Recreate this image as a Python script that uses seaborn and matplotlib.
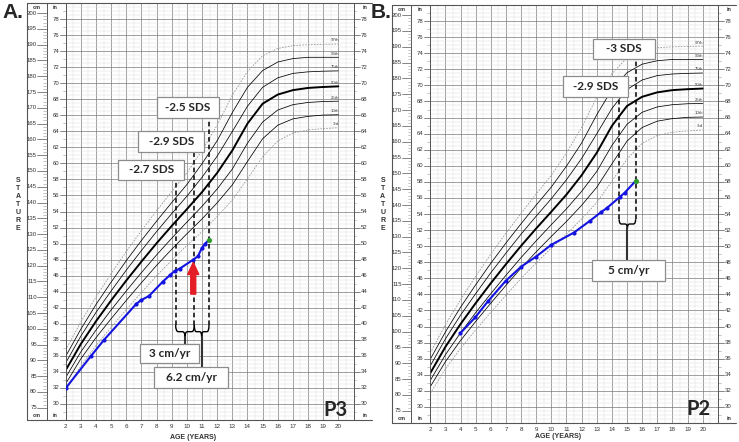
import numpy as np
import pandas as pd
import matplotlib
matplotlib.use("Agg")
import matplotlib.pyplot as plt
import seaborn as sns
from matplotlib.patches import Rectangle, PathPatch
from matplotlib.path import Path

# reference percentile curves (boys stature, cm)
ages = list(range(2, 21))
p3 = [80.5, 88.2, 94.7, 100.5, 106.1, 111.5, 116.8, 121.7, 126.4, 130.8, 135.6, 140.8, 147.5, 154.5, 159.5, 162.0, 163.0, 163.4, 163.7]
p10 = [82.6, 90.5, 97.2, 103.2, 109.0, 114.6, 120.1, 125.2, 130.1, 134.8, 139.9, 145.6, 153.0, 160.2, 164.5, 166.5, 167.3, 167.7, 167.8]
p25 = [84.6, 92.7, 99.6, 106.0, 112.0, 117.8, 123.4, 128.7, 133.8, 138.8, 144.3, 150.6, 158.8, 165.5, 169.3, 171.0, 171.7, 172.0, 172.1]
p50 = [86.9, 95.2, 102.4, 109.0, 115.3, 121.3, 127.1, 132.6, 137.9, 143.3, 149.4, 156.5, 165.0, 171.3, 174.2, 175.6, 176.3, 176.6, 176.8]
p75 = [89.2, 97.7, 105.2, 112.0, 118.6, 124.8, 130.8, 136.5, 142.0, 148.0, 154.7, 162.5, 170.5, 176.5, 179.5, 180.9, 181.4, 181.6, 181.7]
p90 = [91.3, 99.9, 107.7, 114.8, 121.6, 128.0, 134.1, 140.0, 145.7, 152.3, 159.6, 168.5, 176.5, 181.8, 184.5, 185.6, 186.0, 186.0, 186.0]
p97 = [93.3, 102.2, 110.1, 117.5, 124.5, 131.1, 137.4, 143.5, 149.4, 156.5, 164.5, 174.0, 181.5, 186.5, 188.8, 189.7, 190.0, 190.1, 190.2]
pct_names = ["3rd", "10th", "25th", "50th", "75th", "90th", "97th"]
pct_values = [p3, p10, p25, p50, p75, p90, p97]

# patient P3 (panel A)
p3_age = [2.0, 3.67, 4.53, 6.64, 6.95, 7.5, 8.4, 8.88, 9.19, 9.54, 10.42, 10.73, 10.99, 11.21]
p3_cm = [81.2, 91.4, 96.5, 107.8, 109.0, 110.4, 114.9, 117.0, 118.3, 119.1, 121.9, 123.0, 125.6, 127.0]
p3_last = (11.46, 128.2)

# patient P2 (panel B)
p2_age = [3.98, 4.97, 5.83, 6.98, 8.0, 8.99, 9.99, 11.5, 12.55, 13.3, 13.66, 14.54, 14.85]
p2_cm = [99.5, 104.5, 109.7, 116.0, 120.5, 123.7, 127.4, 131.3, 135.0, 137.8, 139.0, 142.6, 143.9]
p2_last = (15.57, 147.6)

sns.set_style("white")
plt.rcParams['font.family'] = ['Liberation Sans', 'DejaVu Sans']

fig = plt.figure(figsize=(7.39, 4.42), dpi=100)
W, H = 739, 442

YMIN, YMAX = 28 * 2.54, 80 * 2.54
BLUE = '#1414e0'
GREEN = '#2e9b2e'


def setup_panel(ax, xlab_y):
    ax.set_xlim(2, 21)
    ax.set_ylim(YMIN, YMAX)
    ax.set_xticks(range(2, 22))
    ax.set_xticks(np.arange(2, 21.01, 0.5), minor=True)
    ax.set_yticks([i * 2.54 for i in range(28, 81, 2)])
    ax.set_yticks([i * 2.54 for i in np.arange(28, 80.1, 0.5)], minor=True)
    ax.grid(which='major', color='#858585', lw=0.55)
    ax.grid(which='minor', color='#dedede', lw=0.35)
    ax.set_axisbelow(True)
    ax.set_xticklabels([str(a) for a in range(2, 21)] + [''], fontsize=4.5, color='#333')
    ax.tick_params(axis='x', which='both', length=0, pad=3)
    ax.tick_params(axis='y', which='both', length=0, labelleft=False)
    for s in ax.spines.values():
        s.set_color('#555')
        s.set_linewidth(0.7)
    ax.set_xlabel('')
    ax.set_ylabel('')
    ax.text(0.444, xlab_y, 'AGE (YEARS)', transform=ax.transAxes, ha='center', va='center',
            fontsize=5, fontweight='bold', color='#333', clip_on=False)

    tr = ax.get_yaxis_transform()
    kw = dict(transform=tr, clip_on=False)
    # frame of side columns
    ax.plot([-0.1345, -0.1345], [YMIN, YMAX], color='#555', lw=0.8, **kw)
    ax.plot([-0.066, -0.066], [YMIN, YMAX], color='#555', lw=0.7, **kw)
    ax.plot([-0.1345, 1.065], [YMAX, YMAX], color='#555', lw=0.8, **kw)
    ax.plot([-0.1345, 1.065], [YMIN, YMIN], color='#555', lw=0.8, **kw)
    # cm scale
    for c in range(75, 201):
        if c % 5 == 0:
            ax.plot([-0.098, -0.066], [c, c], color='#555', lw=0.5, **kw)
            ax.text(-0.1, c, str(c), ha='right', va='center', fontsize=4.3, color='#333', **kw)
        else:
            ax.plot([-0.078, -0.066], [c, c], color='#999', lw=0.4, **kw)
    # inch scale, left and right
    for i in range(29, 80):
        y = i * 2.54
        if i % 2 == 0 and 30 <= i <= 78:
            ax.plot([-0.021, 0], [y, y], color='#555', lw=0.5, **kw)
            ax.plot([1.0, 1.021], [y, y], color='#555', lw=0.5, **kw)
            ax.text(-0.023, y, str(i), ha='right', va='center', fontsize=4.3, color='#333', **kw)
            ax.text(1.024, y, str(i), ha='left', va='center', fontsize=4.3, color='#333', **kw)
        else:
            ax.plot([-0.010, 0], [y, y], color='#999', lw=0.4, **kw)
            ax.plot([1.0, 1.010], [y, y], color='#999', lw=0.4, **kw)
    for yy in (201.8, 72.6):
        ax.text(-0.1, yy, 'cm', ha='center', va='center', fontsize=4, fontweight='bold', color='#333', **kw)
        ax.text(-0.036, yy, 'in', ha='center', va='center', fontsize=4, fontweight='bold', color='#333', **kw)
        ax.text(1.04, yy, 'in', ha='center', va='center', fontsize=4, fontweight='bold', color='#333', **kw)

    # percentile curves
    for name, vals in zip(pct_names, pct_values):
        if name in ("3rd", "97th"):
            sns.lineplot(x=ages, y=vals, ax=ax, color='#9a9a9a', lw=0.6, linestyle=(0, (2, 1.5)))
        elif name == "50th":
            sns.lineplot(x=ages, y=vals, ax=ax, color='black', lw=1.4)
        else:
            sns.lineplot(x=ages, y=vals, ax=ax, color='black', lw=0.55)
        ax.text(20.05, vals[-1] + 0.5, name, fontsize=3.2, ha='right', va='bottom', color='#444')


def box(ax, x0, x1, y0, y1, label):
    ax.add_patch(Rectangle((x0, y0), x1 - x0, y1 - y0, facecolor='white',
                           edgecolor='#8c8c8c', lw=0.9, zorder=6))
    ax.text((x0 + x1) / 2, (y0 + y1) / 2, label, ha='center', va='center',
            fontsize=8.5, fontweight='bold', family=['Lato', 'DejaVu Sans'], zorder=7)


def dashed(ax, x, y0, y1):
    ax.plot([x, x], [y0, y1], color='black', lw=1.1, ls=(0, (3, 2)), zorder=4)


def brace(ax, x0, x1, ytop, ymid, ytip):
    xm = (x0 + x1) / 2
    dx = (x1 - x0) * 0.14
    verts = [(x0, ytop), (x0, ymid), (x0 + dx, ymid), (xm - dx, ymid), (xm, ymid), (xm, ytip),
             (xm, ymid), (xm + dx, ymid), (x1 - dx, ymid), (x1, ymid), (x1, ytop)]
    codes = [Path.MOVETO, Path.CURVE3, Path.CURVE3, Path.LINETO, Path.CURVE3, Path.CURVE3,
             Path.CURVE3, Path.CURVE3, Path.LINETO, Path.CURVE3, Path.CURVE3]
    ax.add_patch(PathPatch(Path(verts, codes), facecolor='none', edgecolor='black', lw=1.0, zorder=4))


def patient(ax, xs, ys, last):
    sns.lineplot(x=xs + [last[0]], y=ys + [last[1]], ax=ax, color=BLUE, lw=1.5, zorder=5)
    sns.scatterplot(x=xs, y=ys, ax=ax, color=BLUE, s=9, linewidth=0, zorder=6)
    sns.scatterplot(x=[last[0]], y=[last[1]], ax=ax, color=GREEN, s=14, linewidth=0, zorder=7)


# ---------- panel A ----------
axA = fig.add_axes([65.7 / W, 1 - 420 / H, 287.8 / W, 417 / H])
setup_panel(axA, -0.041)
patient(axA, p3_age, p3_cm, p3_last)
dashed(axA, 9.26, 101.2, 147.2)
dashed(axA, 10.49, 101.2, 155.9)
dashed(axA, 11.46, 101.2, 166.8)
brace(axA, 9.26, 10.49, 101.2, 99.1, 97.5)
brace(axA, 10.49, 11.46, 101.2, 99.1, 97.5)
axA.plot([9.875, 9.875], [97.5, 95.1], color='#333', lw=1.5, zorder=4)
axA.plot([10.98, 10.98], [97.5, 87.85], color='#333', lw=1.5, zorder=4)
box(axA, 8.01, 12.12, 166.8, 173.3, '-2.5 SDS')
box(axA, 6.79, 11.13, 155.9, 162.75, '-2.9 SDS')
box(axA, 5.47, 9.83, 147.2, 153.5, '-2.7 SDS')
box(axA, 6.90, 10.82, 89.1, 95.1, '3 cm/yr')
box(axA, 7.85, 12.73, 81.2, 87.85, '6.2 cm/yr')
axA.annotate('', xy=(10.42, 121.0), xytext=(10.42, 111.0),
             arrowprops=dict(arrowstyle='simple,head_length=0.86,head_width=0.8,tail_width=0.36',
                             color='#e41e26', shrinkA=0, shrinkB=0, mutation_scale=10), zorder=8)
axA.text(0.981, 74.4, 'P3', transform=axA.get_yaxis_transform(), ha='right', va='center',
         fontsize=14.5, fontweight='bold', family=['Lato', 'DejaVu Sans'])

# ---------- panel B ----------
axB = fig.add_axes([430.3 / W, 1 - 423 / H, 287.5 / W, 418 / H])
setup_panel(axB, -0.033)
patient(axB, p2_age, p2_cm, p2_last)
dashed(axB, 14.48, 135.5, 174.2)
dashed(axB, 15.57, 135.5, 186.0)
brace(axB, 14.48, 15.57, 135.5, 134.0, 132.6)
axB.plot([15.03, 15.03], [132.6, 122.6], color='#333', lw=1.5, zorder=4)
box(axB, 12.73, 16.85, 186.0, 192.6, '-3 SDS')
box(axB, 10.75, 15.09, 174.2, 180.7, '-2.9 SDS')
box(axB, 12.67, 17.51, 116.0, 122.6, '5 cm/yr')
axB.text(0.973, 75.5, 'P2', transform=axB.get_yaxis_transform(), ha='right', va='center',
         fontsize=14.5, fontweight='bold', family=['Lato', 'DejaVu Sans'])

# side titles and panel letters
for x_px in (18.3, 382.7):
    for k, ch in enumerate("STATURE"):
        fig.text(x_px / W, 1 - (181 + k * 7.9) / H, ch, ha='center', va='center',
                 fontsize=5, fontweight='bold', color='#333')
fig.text(2 / W, 1 - 12 / H, 'A.', ha='left', va='center', fontsize=15, fontweight='bold')
fig.text(371 / W, 1 - 12 / H, 'B.', ha='left', va='center', fontsize=15, fontweight='bold')

fig.savefig('out.png', dpi=100)
